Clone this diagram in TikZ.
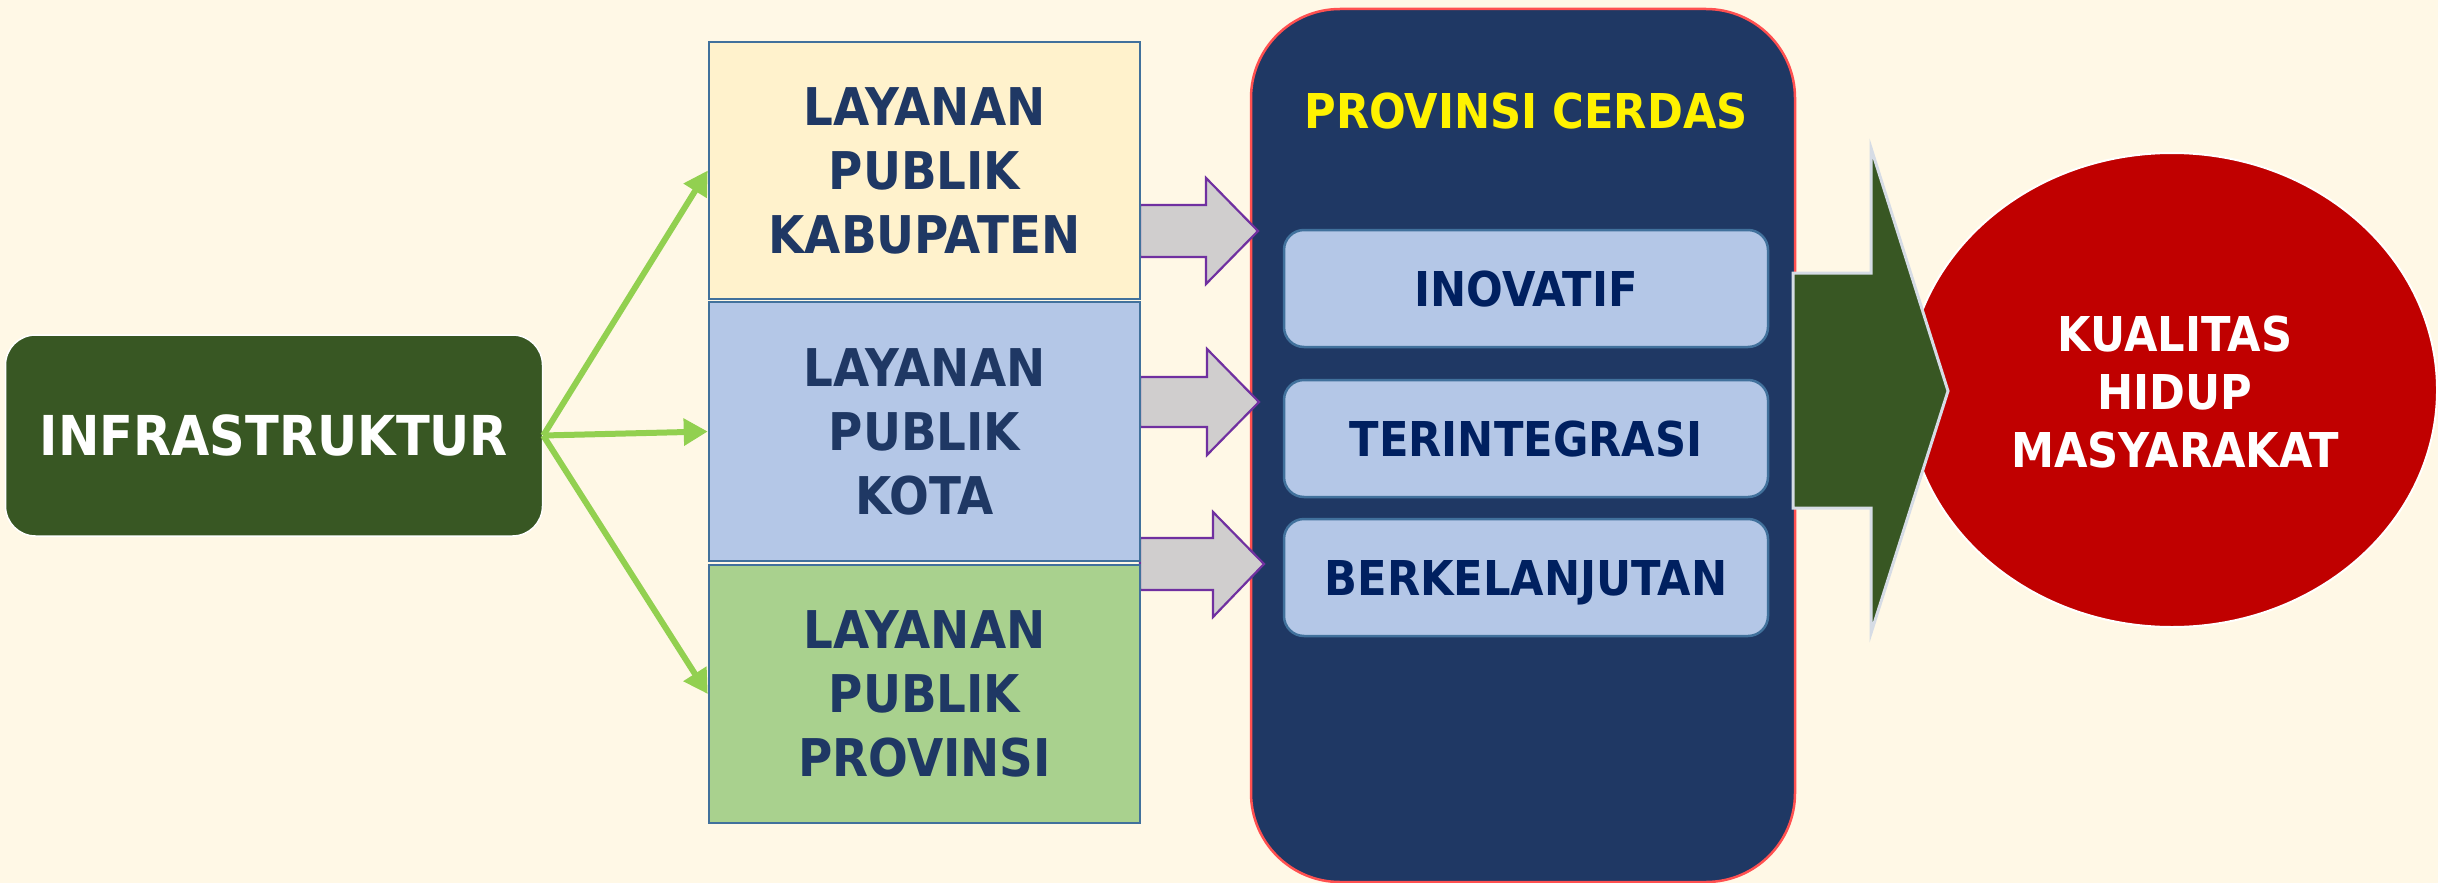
\documentclass[tikz,border=0pt]{standalone}
\usepackage{fontspec}
\setmainfont{DejaVu Sans}[FakeStretch=0.9]
\usetikzlibrary{arrows.meta}
\definecolor{bgcream}{RGB}{255,248,230}
\definecolor{darkolive}{HTML}{385723}
\definecolor{lightgreen}{HTML}{92D050}
\definecolor{navytext}{HTML}{1F3864}
\definecolor{deepnavy}{HTML}{002060}
\definecolor{boxblue}{HTML}{B4C7E7}
\definecolor{boxborder}{HTML}{41719C}
\definecolor{boxcream}{HTML}{FFF2CC}
\definecolor{boxgreen}{HTML}{A9D18E}
\definecolor{arrowgray}{HTML}{D0CECE}
\definecolor{arrowpurple}{HTML}{7030A0}
\definecolor{panelred}{HTML}{FF5050}
\definecolor{paleborder}{HTML}{D6DCE5}
\definecolor{deepred}{HTML}{C00000}
\tikzset{
  layanbox/.style={draw=boxborder, line width=2.5pt, inner sep=0pt,
    minimum width=431pt, align=center, text=navytext,
    font=\bfseries\fontsize{52}{64}\selectfont},
  innerbox/.style={draw=boxborder, line width=2.5pt, fill=boxblue, rounded corners=20pt,
    minimum width=484pt, minimum height=117pt, inner sep=0pt, text=deepnavy,
    text depth=0pt, font=\bfseries\fontsize{48}{58}\selectfont},
  greenline/.style={draw=lightgreen, line width=6pt,
    -{Triangle[length=24pt,width=26pt]}},
  grayarrow/.style={fill=arrowgray, draw=arrowpurple, line width=2.2pt, line join=miter}
}
\begin{document}
\begin{tikzpicture}[x=1pt,y=-1pt]
\useasboundingbox (0,0) rectangle (2438,883);
\fill[bgcream] (0,0) rectangle (2438,883);

% left box
\node[fill=darkolive, draw=white, line width=1.5pt, rounded corners=30pt,
  minimum width=537pt, minimum height=201pt, inner sep=0pt, text=white,
  font=\bfseries\fontsize{55}{64}\selectfont] (inf) at (274,435.5) {INFRASTRUKTUR};

% central panel
\node[fill=navytext, draw=panelred, line width=2.5pt, rounded corners=89pt,
  minimum width=544pt, minimum height=873pt, inner sep=0pt] (panel) at (1523,445.5) {};
\node[text=yellow, inner sep=0pt, text depth=0pt,
  font=\bfseries\fontsize{48}{58}\selectfont] (title) at (1526,111) {PROVINSI CERDAS};

% gray arrows
\draw[grayarrow] (1140,205) -- (1206,205) -- (1206,178) -- (1258,231) -- (1206,284) -- (1206,257) -- (1140,257) -- cycle;
\draw[grayarrow] (1140,377) -- (1207,377) -- (1207,349) -- (1259,402) -- (1207,455) -- (1207,427) -- (1140,427) -- cycle;
\draw[grayarrow] (1140,538) -- (1213,538) -- (1213,512) -- (1264,564) -- (1213,617) -- (1213,590) -- (1140,590) -- cycle;

% layanan boxes
\node[layanbox, fill=boxcream, minimum height=257pt] (lay1) at (924.5,170.5) {LAYANAN\\PUBLIK\\KABUPATEN};
\node[layanbox, fill=boxblue, minimum height=259pt] (lay2) at (924.5,431.5) {LAYANAN\\PUBLIK\\KOTA};
\node[layanbox, fill=boxgreen, minimum height=258pt] (lay3) at (924.5,694) {LAYANAN\\PUBLIK\\PROVINSI};

% green connectors
\draw[greenline] (inf.east) -- (lay1.west);
\draw[greenline] (inf.east) -- (lay2.west);
\draw[greenline] (inf.east) -- (lay3.west);

% inner boxes
\node[innerbox] (inov) at (1526,288.5) {INOVATIF};
\node[innerbox] (integ) at (1526,438.5) {TERINTEGRASI};
\node[innerbox] (lanjut) at (1526,577.5) {BERKELANJUTAN};

% ellipse
\draw[fill=deepred, draw=white, line width=2pt] (2172,390) ellipse [x radius=265, y radius=237];
\node[text=white, align=center, inner sep=0pt,
  font=\bfseries\fontsize{48}{58}\selectfont] (kual) at (2175,392.5) {KUALITAS\\HIDUP\\MASYARAKAT};

% big arrow
\draw[fill=darkolive, draw=paleborder, line width=3pt, line join=miter]
  (1793,273) -- (1871,273) -- (1871,148) -- (1948,391) -- (1871,633) -- (1871,508) -- (1793,508) -- cycle;
\end{tikzpicture}
\end{document}
